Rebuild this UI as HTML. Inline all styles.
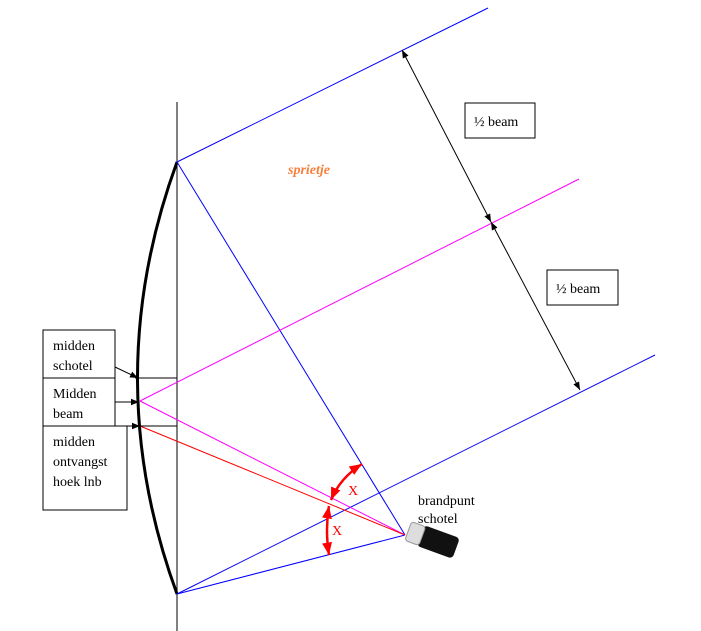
<!DOCTYPE html>
<html><head><style>
body{margin:0;background:#fff;width:701px;height:631px;overflow:hidden}
svg{position:absolute;left:0;top:0}
text{font-family:"Liberation Serif",serif;font-size:14px}
</style></head><body>
<svg width="701" height="631" viewBox="0 0 701 631">
<defs>
<marker id="a" viewBox="0 0 10 10" refX="10" refY="5" markerWidth="8" markerHeight="8" orient="auto-start-reverse"><path d="M0,1L10,5L0,9z" fill="#000"/></marker>
<marker id="r" viewBox="0 0 10 10" refX="10" refY="5" markerWidth="5" markerHeight="5" orient="auto-start-reverse"><path d="M0,1L10,5L0,9z" fill="red"/></marker>
</defs>
<line x1="177" y1="102" x2="177" y2="631" stroke="#000"/>
<path d="M177,162 Q98,378 177,594" fill="none" stroke="#000" stroke-width="3"/>
<g stroke="blue" fill="none">
<line x1="177" y1="162" x2="488" y2="8"/>
<line x1="177" y1="162" x2="405" y2="535"/>
<line x1="177" y1="594" x2="405" y2="535"/>
<line x1="177" y1="594" x2="655" y2="355"/>
</g>
<g stroke="#f0f" fill="none">
<line x1="140" y1="401" x2="579" y2="179"/>
<line x1="140" y1="401" x2="405" y2="535"/>
</g>
<line x1="140" y1="426" x2="405" y2="535" stroke="red"/>
<line x1="135" y1="378" x2="177" y2="378" stroke="#000"/>
<line x1="127" y1="426" x2="177" y2="426" stroke="#000"/>
<g fill="#fff" stroke="#000">
<rect x="43" y="330" width="72" height="48"/>
<rect x="43" y="378" width="72" height="48"/>
<rect x="43" y="426" width="84" height="84"/>
<rect x="465" y="103" width="70" height="35"/>
<rect x="547" y="270" width="71" height="35"/>
</g>
<g stroke="#000">
<line x1="115" y1="367" x2="138" y2="378" marker-end="url(#a)"/>
<line x1="115" y1="402" x2="139" y2="402" marker-end="url(#a)"/>
<line x1="127" y1="426" x2="140" y2="426" marker-end="url(#a)"/>
<line x1="402" y1="50" x2="491" y2="222" marker-start="url(#a)" marker-end="url(#a)"/>
<line x1="491" y1="222" x2="580" y2="390" marker-start="url(#a)" marker-end="url(#a)"/>
</g>
<g stroke="red" stroke-width="2.5" fill="none">
<path d="M362,464 Q340,478 331,500" marker-start="url(#r)" marker-end="url(#r)"/>
<path d="M329,506 Q325,530 329,555" marker-start="url(#r)" marker-end="url(#r)"/>
</g>
<g transform="rotate(20 435 545)">
<rect x="418" y="530" width="38" height="22" rx="4" fill="#111"/>
<rect x="405" y="531" width="15" height="20" rx="3" fill="#ddd" stroke="#999"/>
</g>
<text x="53" y="350">midden</text><text x="53" y="370">schotel</text>
<text x="53" y="398">Midden</text><text x="53" y="418">beam</text>
<text x="53" y="446">midden</text><text x="53" y="466">ontvangst</text><text x="53" y="486">hoek lnb</text>
<text x="474" y="126">½ beam</text>
<text x="556" y="293">½ beam</text>
<text x="418" y="505">brandpunt</text><text x="418" y="523">schotel</text>
<text x="288" y="174" fill="#f77f3c" font-family="Liberation Sans,sans-serif" font-size="12" font-weight="bold" font-style="italic">sprietje</text>
<text x="348" y="495" fill="red" font-family="Liberation Sans,sans-serif" font-size="12">X</text>
<text x="332" y="535" fill="red" font-family="Liberation Sans,sans-serif" font-size="12">X</text>
</svg>
</body></html>
